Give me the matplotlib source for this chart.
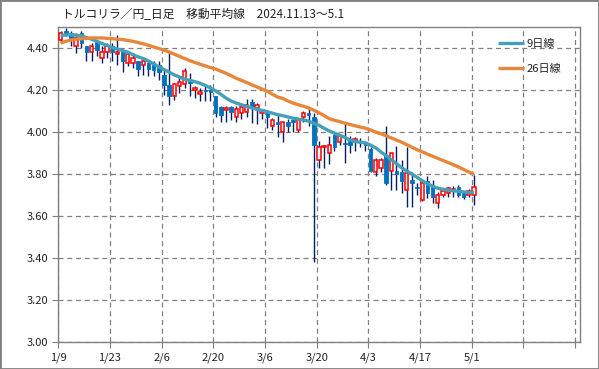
import matplotlib
matplotlib.use("Agg")
import matplotlib.pyplot as plt
import matplotlib.patches as mpatches
import numpy as np

plt.rcParams['font.family'] = ['Noto Sans CJK JP', 'DejaVu Sans']

title = "トルコリラ／円_日足　移動平均線　2024.11.13～5.1"
tick_labels = ["1/9", "1/23", "2/6", "2/20", "3/6", "3/20", "4/3", "4/17", "5/1", "", ""]

opens = [4.437, 4.483, 4.472, 4.408, 4.472, 4.411, 4.379, 4.427, 4.352, 4.379,
         4.408, 4.372, 4.381, 4.329, 4.329, 4.340, 4.318, 4.329, 4.321, 4.321,
         4.273, 4.223, 4.172, 4.217, 4.229, 4.241, 4.198, 4.183, 4.201, 4.201,
         4.173, 4.119, 4.106, 4.119, 4.070, 4.090, 4.098, 4.141, 4.114, 4.090,
         4.093, 4.030, 4.050, 4.000, 4.050, 4.058, 4.008, 4.074, 4.093, 4.071,
         3.868, 3.928, 3.900, 3.985, 3.955, 3.950, 3.963, 3.955, 3.955, 3.955,
         3.919, 3.810, 3.828, 3.890, 3.817, 3.817, 3.812, 3.725, 3.770, 3.741,
         3.677, 3.765, 3.738, 3.665, 3.700, 3.712, 3.720, 3.741, 3.709, 3.700,
         3.700]
highs = [4.480, 4.495, 4.480, 4.472, 4.480, 4.411, 4.424, 4.440, 4.408, 4.424,
         4.424, 4.464, 4.384, 4.384, 4.376, 4.340, 4.352, 4.345, 4.337, 4.337,
         4.297, 4.385, 4.233, 4.262, 4.305, 4.281, 4.217, 4.210, 4.225, 4.225,
         4.173, 4.122, 4.122, 4.122, 4.122, 4.130, 4.158, 4.157, 4.138, 4.110,
         4.103, 4.066, 4.082, 4.050, 4.060, 4.070, 4.066, 4.100, 4.120, 4.090,
         3.960, 3.940, 3.980, 4.000, 3.990, 4.042, 3.980, 3.975, 3.970, 3.960,
         3.930, 3.875, 3.875, 4.027, 3.900, 3.935, 3.868, 3.930, 3.810, 3.760,
         3.770, 3.789, 3.773, 3.717, 3.730, 3.740, 3.745, 3.750, 3.720, 3.730,
         3.797]
lows = [4.425, 4.455, 4.410, 4.376, 4.400, 4.337, 4.337, 4.360, 4.329, 4.352,
        4.337, 4.321, 4.284, 4.313, 4.305, 4.265, 4.273, 4.265, 4.265, 4.250,
        4.178, 4.130, 4.154, 4.186, 4.210, 4.170, 4.162, 4.146, 4.146, 4.146,
        4.074, 4.050, 4.050, 4.058, 4.050, 4.060, 4.070, 4.042, 4.040, 4.060,
        4.019, 4.010, 3.979, 3.955, 4.000, 4.000, 4.000, 4.050, 4.030, 3.382,
        3.830, 3.830, 3.850, 3.910, 3.940, 3.852, 3.900, 3.910, 3.930, 3.910,
        3.810, 3.790, 3.810, 3.750, 3.725, 3.725, 3.710, 3.646, 3.646, 3.700,
        3.670, 3.685, 3.662, 3.638, 3.690, 3.690, 3.690, 3.690, 3.680, 3.690,
        3.654]
closes = [4.471, 4.468, 4.448, 4.448, 4.424, 4.379, 4.411, 4.389, 4.381, 4.411,
          4.379, 4.381, 4.337, 4.372, 4.352, 4.300, 4.340, 4.300, 4.297, 4.285,
          4.226, 4.174, 4.231, 4.240, 4.292, 4.233, 4.209, 4.193, 4.194, 4.189,
          4.090, 4.079, 4.117, 4.098, 4.109, 4.119, 4.128, 4.119, 4.128, 4.103,
          4.071, 4.058, 4.038, 4.047, 4.027, 4.047, 4.058, 4.090, 4.082, 3.937,
          3.928, 3.936, 3.940, 3.930, 3.980, 3.943, 3.940, 3.966, 3.947, 3.940,
          3.816, 3.868, 3.868, 3.757, 3.900, 3.800, 3.765, 3.805, 3.757, 3.733,
          3.757, 3.710, 3.690, 3.700, 3.720, 3.736, 3.728, 3.700, 3.690, 3.722,
          3.738]
ma9 = [4.460, 4.462, 4.463, 4.461, 4.458, 4.450, 4.442, 4.432, 4.422, 4.412,
       4.402, 4.395, 4.388, 4.380, 4.368, 4.358, 4.350, 4.338, 4.325, 4.310,
       4.298, 4.285, 4.272, 4.262, 4.252, 4.246, 4.240, 4.232, 4.222, 4.210,
       4.196, 4.180, 4.162, 4.148, 4.138, 4.130, 4.122, 4.115, 4.108, 4.103,
       4.097, 4.090, 4.083, 4.078, 4.072, 4.066, 4.062, 4.058, 4.052, 4.042,
       4.032, 4.018, 4.005, 3.995, 3.985, 3.975, 3.962, 3.955, 3.952, 3.948,
       3.938, 3.925, 3.905, 3.888, 3.868, 3.850, 3.830, 3.815, 3.800, 3.785,
       3.768, 3.755, 3.742, 3.733, 3.728, 3.724, 3.721, 3.718, 3.715, 3.713,
       3.712]
ma26 = [4.424, 4.432, 4.438, 4.442, 4.444, 4.446, 4.448, 4.448, 4.448, 4.446,
        4.444, 4.442, 4.440, 4.436, 4.432, 4.426, 4.420, 4.413, 4.405, 4.398,
        4.390, 4.381, 4.371, 4.360, 4.350, 4.340, 4.331, 4.323, 4.315, 4.307,
        4.300, 4.290, 4.280, 4.268, 4.256, 4.246, 4.236, 4.225, 4.215, 4.205,
        4.194, 4.180, 4.167, 4.160, 4.148, 4.138, 4.130, 4.123, 4.115, 4.104,
        4.092, 4.078, 4.064, 4.056, 4.050, 4.043, 4.036, 4.030, 4.024, 4.018,
        4.010, 4.000, 3.992, 3.982, 3.972, 3.962, 3.952, 3.940, 3.928, 3.916,
        3.906, 3.895, 3.885, 3.875, 3.865, 3.855, 3.845, 3.834, 3.822, 3.810,
        3.800]

BLUE = "#0070C0"
RED = "#FF0000"
NAVY = "#002060"
TEAL = "#44A0B8"
ORANGE = "#E8873A"
GRID = "#808080"

o = np.array(opens); h = np.array(highs); l = np.array(lows); c = np.array(closes)
n = len(o)
x = np.arange(n) + 0.45

fig = plt.figure(figsize=(5.99, 3.69), dpi=100)
ax = fig.add_axes([0.0973, 0.0724, 0.9686 - 0.0973, 0.9268 - 0.0724])

ax.vlines(x, l, h, color=NAVY, linewidth=1.0, zorder=2)
up = c >= o
body_bottom = np.minimum(o, c)
body_h = np.maximum(np.abs(c - o), 0.004)
ax.bar(x[~up], body_h[~up], bottom=body_bottom[~up], width=0.68,
       color=BLUE, edgecolor=BLUE, linewidth=0.6, zorder=3)
ax.bar(x[up], body_h[up], bottom=body_bottom[up], width=0.64,
       color="white", edgecolor=RED, linewidth=1.1, zorder=3)

ax.plot(x, ma9, color=TEAL, linewidth=2.4, label="9日線", zorder=4, solid_capstyle='butt')
ax.plot(x, ma26, color=ORANGE, linewidth=2.4, label="26日線", zorder=4, solid_capstyle='butt')

ax.set_xlim(0, 101)
ax.set_ylim(3.0, 4.5)
ax.set_yticks(np.arange(3.0, 4.41, 0.2))
ax.set_yticklabels([f"{v:.2f}" for v in np.arange(3.0, 4.41, 0.2)])
ax.set_xticks(np.arange(0, 101, 10))
ax.set_xticklabels(tick_labels)
ax.grid(True, color=GRID, linestyle=(0, (4, 3)), linewidth=0.9)
ax.set_axisbelow(True)
for s in ax.spines.values():
    s.set_color(GRID)
    s.set_linewidth(1.0)
ax.tick_params(axis='both', colors=GRID, length=4, width=0.8, labelsize=8, labelcolor="#222222", pad=3)

leg = ax.legend(loc='upper left', bbox_to_anchor=(0.842, 0.962), frameon=False,
                fontsize=8, handlelength=2.4, handletextpad=0.15, labelspacing=1.3,
                borderpad=0, borderaxespad=0)
for t in leg.get_texts():
    t.set_color("#222222")

fig.text(0.103, 1 - 14.5 / 369, title, fontsize=8.5, color="#222222", va='center', ha='left')

fig.patches.append(mpatches.Rectangle((0, 0), 1, 1, transform=fig.transFigure, fill=False,
                                      edgecolor="#808080", linewidth=2.0))

fig.savefig("out.png", dpi=100)
